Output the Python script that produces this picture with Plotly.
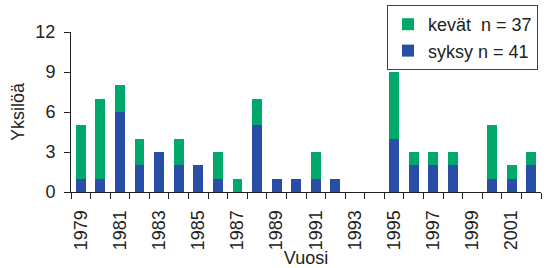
import plotly.graph_objects as go

years = list(range(1979, 2003))
syksy = [1, 1, 6, 2, 3, 2, 2, 1, 0, 5, 1, 1, 1, 1, 0, 0, 4, 2, 2, 2, 0, 1, 1, 2]
kevat = [4, 6, 2, 2, 0, 2, 0, 2, 1, 2, 0, 0, 2, 0, 0, 0, 5, 1, 1, 1, 0, 4, 1, 1]
label_years = list(range(1979, 2003, 2))
boundaries = [y - 0.5 for y in years] + [years[-1] + 0.5]

green = "#00A86B"
blue = "#284EA6"
font = "Liberation Sans, Arial, sans-serif"

fig = go.Figure()
fig.add_trace(go.Bar(x=years, y=syksy, name="syksy n = 41", marker_color=blue, width=0.5,
                     marker_line_width=0))
fig.add_trace(go.Bar(x=years, y=kevat, name="kevät\u00a0\u00a0n = 37", marker_color=green, width=0.5,
                     marker_line_width=0))

fig.update_layout(
    barmode="stack",
    width=546, height=268,
    margin=dict(l=71, r=5, t=32, b=76, autoexpand=False),
    plot_bgcolor="white", paper_bgcolor="white",
    font=dict(family=font, size=18, color="#222"),
    legend=dict(
        traceorder="reversed",
        xref="container", yref="container",
        x=538 / 546, xanchor="right", y=1 - 5 / 268, yanchor="top",
        bordercolor="#444", borderwidth=1,
        bgcolor="white",
        font=dict(size=18),
        itemwidth=30,
        tracegroupgap=0,
    ),
    xaxis=dict(
        range=[1978.5, 2002.5], automargin=False,
        tickmode="array", tickvals=label_years, ticktext=[str(y) for y in label_years],
        tickangle=-90, ticks="", ticklabelstandoff=10,
        showline=True, linecolor="#222", linewidth=1,
        showgrid=False, zeroline=False,
        minor=dict(tickmode="array", tickvals=boundaries, ticks="outside", ticklen=6,
                   tickcolor="#222", showgrid=False),
        title=dict(text="Vuosi", standoff=4, font=dict(size=18)),
    ),
    yaxis=dict(
        range=[0, 12], tickmode="array", tickvals=[0, 3, 6, 9, 12], automargin=False,
        ticks="outside", ticklen=6, tickcolor="#222", ticklabelstandoff=5,
        showline=True, linecolor="#222", linewidth=1,
        showgrid=False, zeroline=False,
        title=dict(text="Yksilöä", standoff=6, font=dict(size=18)),
    ),
)

fig.write_html("out.html", config={"displayModeBar": False},
               post_script="document.body.style.margin='0';")
